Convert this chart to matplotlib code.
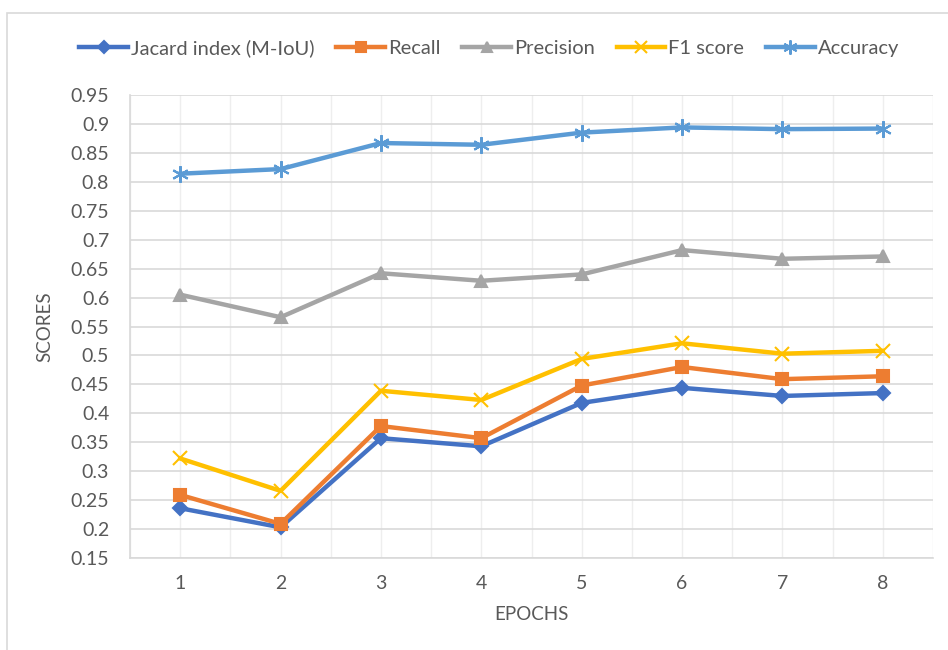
import matplotlib.pyplot as plt
from matplotlib.patches import Rectangle

plt.rcParams['font.family'] = ['Lato', 'DejaVu Sans']

epochs = [1, 2, 3, 4, 5, 6, 7, 8]
jacard = [0.236, 0.203, 0.357, 0.343, 0.418, 0.444, 0.430, 0.435]
recall = [0.259, 0.209, 0.378, 0.357, 0.448, 0.480, 0.459, 0.464]
precision = [0.605, 0.566, 0.642, 0.629, 0.640, 0.682, 0.667, 0.671]
f1_score = [0.322, 0.266, 0.439, 0.423, 0.494, 0.521, 0.503, 0.508]
accuracy = [0.814, 0.822, 0.867, 0.864, 0.885, 0.894, 0.891, 0.892]

y_ticks = [0.15, 0.2, 0.25, 0.3, 0.35, 0.4, 0.45, 0.5, 0.55, 0.6,
           0.65, 0.7, 0.75, 0.8, 0.85, 0.9, 0.95]

text_color = '#595959'

fig = plt.figure(figsize=(9.48, 6.5), dpi=100)
ax = fig.add_axes([130 / 948, 1 - 558 / 650, 803 / 948, 463 / 650])

# chart frame around the whole figure
fig.patches.append(Rectangle((7 / 948, -0.05), 1.0, 1 - 13 / 650 + 0.05,
                             transform=fig.transFigure, fill=False,
                             edgecolor='#d9d9d9', linewidth=1.2))

series = [
    (jacard, 'Jacard index (M-IoU)', '#4472C4', 'D', 7),
    (recall, 'Recall', '#ED7D31', 's', 9),
    (precision, 'Precision', '#A5A5A5', '^', 9),
    (f1_score, 'F1 score', '#FFC000', 'x', 10),
    (accuracy, 'Accuracy', '#5B9BD5', (6, 2, 0), 12),
]
for vals, name, color, marker, ms in series:
    ax.plot(epochs, vals, color=color, linewidth=3.2, marker=marker,
            markersize=ms, markerfacecolor=color, markeredgecolor=color,
            markeredgewidth=1.5, label=name, zorder=3)

ax.set_xlim(0.5, 8.5)
ax.set_ylim(0.15, 0.95)
ax.set_yticks(y_ticks)
ax.set_yticklabels([f'{v:g}' for v in y_ticks])
ax.set_xticks(epochs)
ax.set_xticks([e + 0.5 for e in range(0, 9)], minor=True)

ax.grid(axis='y', color='#d9d9d9', linewidth=1.2)
ax.grid(axis='x', which='both', color='#eeeeee', linewidth=1.0)
ax.set_axisbelow(True)

for side in ['top', 'right']:
    ax.spines[side].set_visible(False)
ax.spines['left'].set_color('#d9d9d9')
ax.spines['bottom'].set_color('#d9d9d9')
ax.spines['left'].set_linewidth(1.2)
ax.spines['bottom'].set_linewidth(1.2)

ax.tick_params(which='both', length=0, labelsize=14, colors=text_color)
ax.tick_params(axis='y', pad=15)
ax.tick_params(axis='x', pad=12)

ax.set_xlabel('EPOCHS', fontsize=13.5, color=text_color)
ax.set_ylabel('SCORES', fontsize=13.5, color=text_color)
ax.xaxis.set_label_coords(0.5, -0.104)
ax.yaxis.set_label_coords(-0.095, 0.5)

fig.legend(loc='center', bbox_to_anchor=(0.516, 1 - 48 / 650), ncol=5,
           frameon=False, fontsize=14.5, labelcolor=text_color,
           handlelength=2.4, handletextpad=0.15, columnspacing=1.1,
           markerscale=0.85)

fig.savefig('out.png', dpi=100)
